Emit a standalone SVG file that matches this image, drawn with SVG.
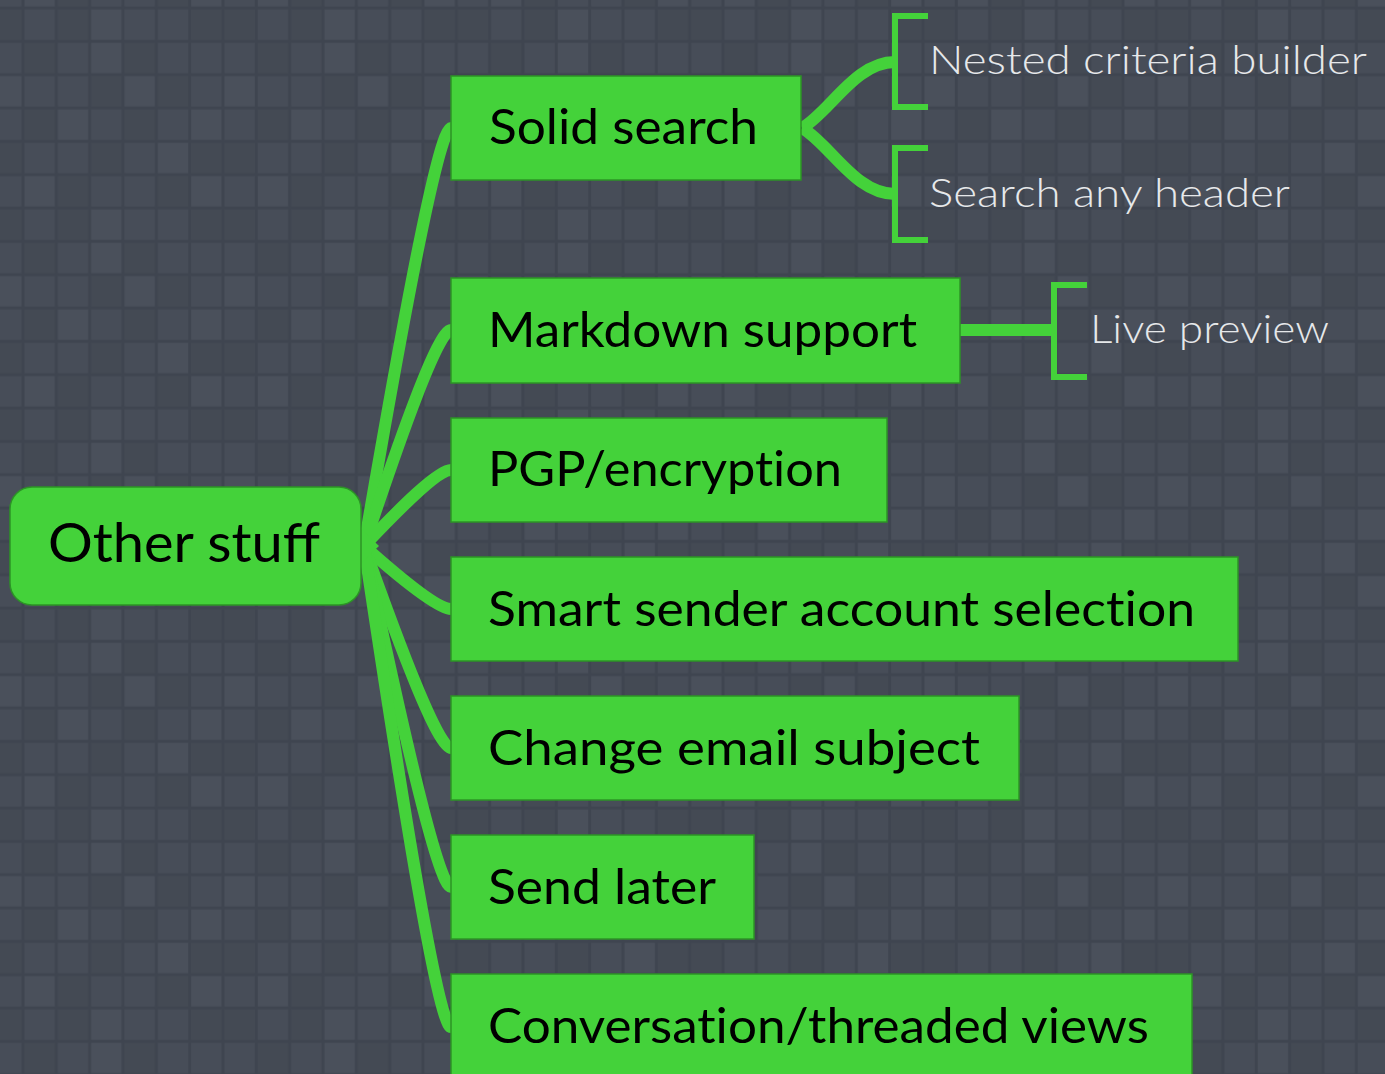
<svg xmlns="http://www.w3.org/2000/svg" width="1385" height="1074" viewBox="0 0 1385 1074">
<defs>
<style>
.node{fill:#44d23a;stroke:#2c9426;stroke-width:1.5}
.lbl{font-family:Lato,"Open Sans","Liberation Sans",sans-serif;font-weight:400;fill:#000;font-size:48px;font-variant-ligatures:none}
.sub{font-family:Lato,"Open Sans","Liberation Sans",sans-serif;font-weight:300;fill:#e6e8ea;font-size:39px;font-variant-ligatures:none}
.br{fill:none;stroke:#44d23a;stroke-width:12;stroke-linecap:butt}
.bk{fill:none;stroke:#44d23a;stroke-width:6}
.a{fill:#474d58}.b{fill:#444a54}.c{fill:#4a505b}
</style>
<pattern id="tiles" patternUnits="userSpaceOnUse" x="-10.33" y="-25.33" width="233.33" height="200">
<rect width="233.33" height="200" fill="#3f4550"/>
<g>
<rect class="a" x="1.5" y="1.5" width="30.3" height="30.3"/><rect class="c" x="34.8" y="1.5" width="30.3" height="30.3"/><rect class="b" x="68.2" y="1.5" width="30.3" height="30.3"/><rect class="a" x="101.5" y="1.5" width="30.3" height="30.3"/><rect class="a" x="134.8" y="1.5" width="30.3" height="30.3"/><rect class="b" x="168.2" y="1.5" width="30.3" height="30.3"/><rect class="c" x="201.5" y="1.5" width="30.3" height="30.3"/>
<rect class="b" x="1.5" y="34.8" width="30.3" height="30.3"/><rect class="a" x="34.8" y="34.8" width="30.3" height="30.3"/><rect class="b" x="68.2" y="34.8" width="30.3" height="30.3"/><rect class="c" x="101.5" y="34.8" width="30.3" height="30.3"/><rect class="a" x="134.8" y="34.8" width="30.3" height="30.3"/><rect class="a" x="168.2" y="34.8" width="30.3" height="30.3"/><rect class="b" x="201.5" y="34.8" width="30.3" height="30.3"/>
<rect class="a" x="1.5" y="68.2" width="30.3" height="30.3"/><rect class="b" x="34.8" y="68.2" width="30.3" height="30.3"/><rect class="a" x="68.2" y="68.2" width="30.3" height="30.3"/><rect class="c" x="101.5" y="68.2" width="30.3" height="30.3"/><rect class="b" x="134.8" y="68.2" width="30.3" height="30.3"/><rect class="a" x="168.2" y="68.2" width="30.3" height="30.3"/><rect class="a" x="201.5" y="68.2" width="30.3" height="30.3"/>
<rect class="c" x="1.5" y="101.5" width="30.3" height="30.3"/><rect class="a" x="34.8" y="101.5" width="30.3" height="30.3"/><rect class="a" x="68.2" y="101.5" width="30.3" height="30.3"/><rect class="b" x="101.5" y="101.5" width="30.3" height="30.3"/><rect class="c" x="134.8" y="101.5" width="30.3" height="30.3"/><rect class="b" x="168.2" y="101.5" width="30.3" height="30.3"/><rect class="a" x="201.5" y="101.5" width="30.3" height="30.3"/>
<rect class="a" x="1.5" y="134.8" width="30.3" height="30.3"/><rect class="b" x="34.8" y="134.8" width="30.3" height="30.3"/><rect class="c" x="68.2" y="134.8" width="30.3" height="30.3"/><rect class="a" x="101.5" y="134.8" width="30.3" height="30.3"/><rect class="b" x="134.8" y="134.8" width="30.3" height="30.3"/><rect class="a" x="168.2" y="134.8" width="30.3" height="30.3"/><rect class="c" x="201.5" y="134.8" width="30.3" height="30.3"/>
<rect class="b" x="1.5" y="168.2" width="30.3" height="30.3"/><rect class="a" x="34.8" y="168.2" width="30.3" height="30.3"/><rect class="a" x="68.2" y="168.2" width="30.3" height="30.3"/><rect class="b" x="101.5" y="168.2" width="30.3" height="30.3"/><rect class="a" x="134.8" y="168.2" width="30.3" height="30.3"/><rect class="c" x="168.2" y="168.2" width="30.3" height="30.3"/><rect class="b" x="201.5" y="168.2" width="30.3" height="30.3"/>
</g>
</pattern>
</defs>
<rect width="1385" height="1074" fill="url(#tiles)"/>

<g id="connectors">
<path class="br" d="M364 546 C400 337 438 128 451 128"/>
<path class="br" d="M364 546 C400 438 438 330 451 330"/>
<path class="br" d="M364 546 C400 508 438 470 451 470"/>
<path class="br" d="M364 546 C400 578 438 609 451 609"/>
<path class="br" d="M364 546 C400 647 438 748 451 748"/>
<path class="br" d="M364 546 C400 717 438 887 451 887"/>
<path class="br" d="M364 546 C400 787 438 1027 451 1027"/>
<path d="M360 528 L379 546 L360 564 Z" fill="#44d23a"/>
<path class="br" d="M802 128 C830 112 855 62 895 62"/>
<path class="br" d="M802 128 C830 144 855 194 895 194"/>
<path class="br" d="M960 330 H1054" stroke-width="13"/>
<path class="bk" d="M928 16 H895 V107 H928"/>
<path class="bk" d="M928 148 H895 V240 H928"/>
<path class="bk" d="M1087 285 H1054 V377 H1087"/>
</g>

<g id="root">
<rect class="node" x="10" y="487" width="351" height="118" rx="22"/>
<text class="lbl" x="48" y="562" style="font-size:55px;font-variant-ligatures:normal" textLength="272" lengthAdjust="spacingAndGlyphs">Other stuff</text>
</g>
<g id="n-solid">
<rect class="node" x="451" y="76" width="350" height="104"/>
<text class="lbl" x="489" y="144" textLength="269" lengthAdjust="spacingAndGlyphs">Solid search</text>
</g>
<g id="n-nested">
<text class="sub" x="929" y="74" textLength="438" lengthAdjust="spacingAndGlyphs">Nested criteria builder</text>
</g>
<g id="n-header">
<text class="sub" x="929" y="207" textLength="361" lengthAdjust="spacingAndGlyphs">Search any header</text>
</g>
<g id="n-markdown">
<rect class="node" x="451" y="278" width="509" height="105"/>
<text class="lbl" x="488" y="347" textLength="429" lengthAdjust="spacingAndGlyphs">Markdown support</text>
</g>
<g id="n-live">
<text class="sub" x="1090" y="343" textLength="239" lengthAdjust="spacingAndGlyphs">Live preview</text>
</g>
<g id="n-pgp">
<rect class="node" x="451" y="418" width="436" height="104"/>
<text class="lbl" x="488" y="486" textLength="354" lengthAdjust="spacingAndGlyphs">PGP/encryption</text>
</g>
<g id="n-smart">
<rect class="node" x="451" y="557" width="787" height="104"/>
<text class="lbl" x="488" y="626" textLength="707" lengthAdjust="spacingAndGlyphs">Smart sender account selection</text>
</g>
<g id="n-change">
<rect class="node" x="451" y="696" width="568" height="104"/>
<text class="lbl" x="488" y="765" textLength="492" lengthAdjust="spacingAndGlyphs">Change email subject</text>
</g>
<g id="n-later">
<rect class="node" x="451" y="835" width="303" height="104"/>
<text class="lbl" x="488" y="904" textLength="228" lengthAdjust="spacingAndGlyphs">Send later</text>
</g>
<g id="n-conv">
<rect class="node" x="451" y="974" width="741" height="110"/>
<text class="lbl" x="488" y="1043" textLength="661" lengthAdjust="spacingAndGlyphs">Conversation/threaded views</text>
</g>
</svg>
